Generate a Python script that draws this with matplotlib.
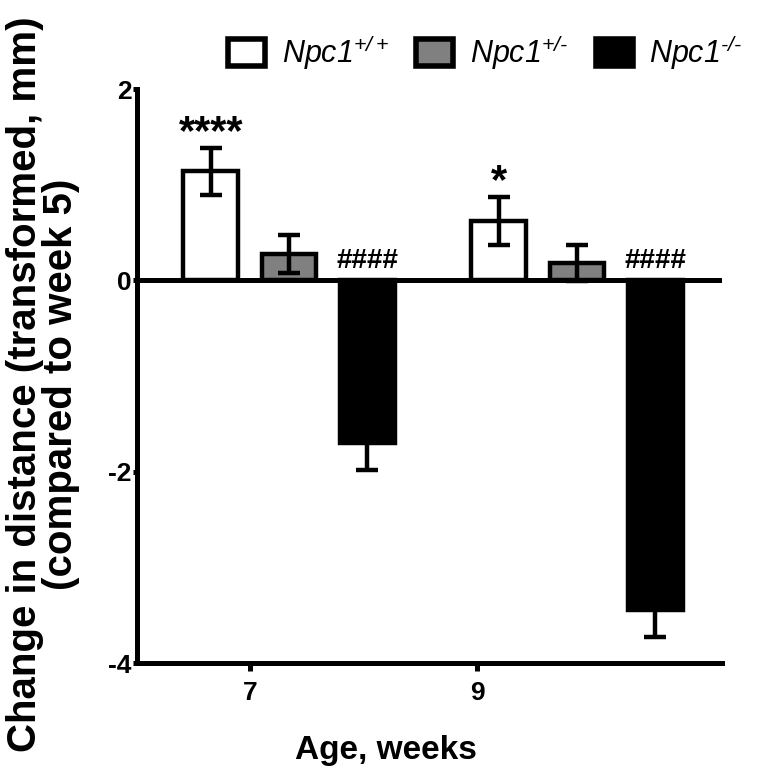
import numpy as np
import matplotlib
matplotlib.use("Agg")
import matplotlib.pyplot as plt
from matplotlib.patches import Patch

plt.rcParams['font.family'] = ['Liberation Sans', 'DejaVu Sans']
plt.rcParams['mathtext.fontset'] = 'custom'
plt.rcParams['mathtext.it'] = 'Liberation Sans:italic'
plt.rcParams['mathtext.rm'] = 'Liberation Sans:italic'

# data
weeks = ['7', '9']
genotypes = ['+/+', '+/\u2010', '\u2010/\u2010']
means_wt = [1.14, 0.62]
means_het = [0.28, 0.18]
means_ko = [-1.70, -3.45]
sem_wt = [0.25, 0.25]
sem_het = [0.20, 0.19]
sem_ko = [0.28, 0.28]
stars = ['****', '*']
hashes = ['####', '####']

colors = ['white', '#808080', 'black']
means = [means_wt, means_het, means_ko]
sems = [sem_wt, sem_het, sem_ko]

fig = plt.figure(figsize=(7.67, 7.69), dpi=100)
ax = fig.add_axes([0.1786, 0.1378, 0.7627, 0.7462])

x = np.arange(len(weeks))
offsets = [-0.272, 0.0, 0.272]
width = 0.19

for k in range(3):
    xs = x + offsets[k]
    ax.bar(xs, means[k], width, color=colors[k], edgecolor='black',
           linewidth=3.2, zorder=2)
    ax.errorbar(xs, means[k], yerr=sems[k], fmt='none', ecolor='black',
                elinewidth=3.2, capsize=8, capthick=3.2, zorder=3)

# significance marks
for i in range(len(weeks)):
    top = means_wt[i] + sem_wt[i]
    ax.text(x[i] + offsets[0], top + 0.04, stars[i], ha='center', va='baseline',
            fontsize=30, fontweight='bold')
    ax.text(x[i] + offsets[2], 0.13, hashes[i], ha='center', va='baseline',
            fontsize=20, fontweight='bold')

ax.axhline(0, color='black', linewidth=3.6, zorder=4)

ax.set_ylim(-4, 2)
ax.set_xlim(-0.528, 1.503)
ax.set_yticks([-4, -2, 0, 2])
ax.set_yticklabels(['-4', '-2', '0', '2'])
ax.set_xticks([-0.135, 0.653])
ax.set_xticklabels(weeks)

for side in ['top', 'right']:
    ax.spines[side].set_visible(False)
for side in ['left', 'bottom']:
    ax.spines[side].set_linewidth(3.6)

ax.tick_params(axis='y', width=3.6, length=3, labelsize=19, pad=1)
ax.tick_params(axis='x', width=3.6, length=6, labelsize=19, pad=7)
for lab in ax.get_xticklabels() + ax.get_yticklabels():
    lab.set_fontweight('bold')

ax.set_xlabel('Age, weeks', fontsize=24, fontweight='bold')
ax.xaxis.set_label_coords(0.425, -0.125)
ax.set_ylabel('Change in distance (transformed, mm)\n(compared to week 5)',
              fontsize=29, fontweight='bold', linespacing=0.95)
ax.yaxis.set_label_coords(-0.097, 0.486)

handles = [Patch(facecolor=c, edgecolor='black', linewidth=4) for c in colors]
labels = [r'$Npc1^{%s}$' % g for g in genotypes]
ax.legend(handles, labels, loc='center left', bbox_to_anchor=(0.156, 1.064),
          ncol=3, frameon=False, fontsize=22, handlelength=1.2, handleheight=0.95,
          columnspacing=0.9, handletextpad=0.55, borderpad=0, borderaxespad=0)

fig.savefig('out.png', dpi=100)
